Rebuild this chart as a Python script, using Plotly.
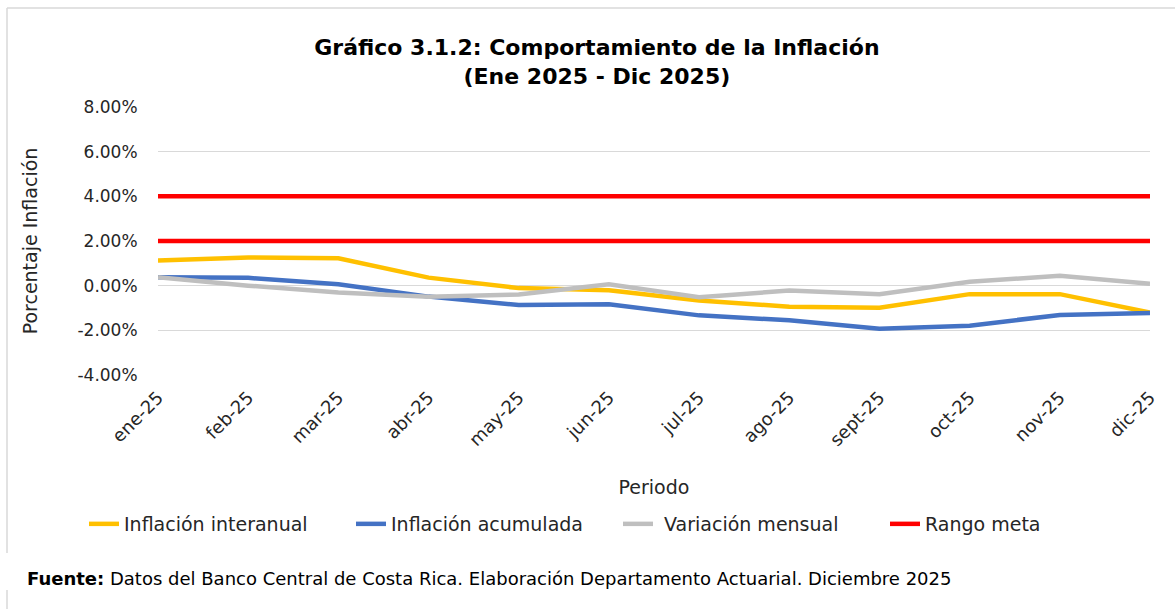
import plotly.graph_objects as go

periodos = ["ene-25", "feb-25", "mar-25", "abr-25", "may-25", "jun-25",
            "jul-25", "ago-25", "sept-25", "oct-25", "nov-25", "dic-25"]
inflacion_interanual = [1.13, 1.26, 1.23, 0.36, -0.11, -0.21, -0.66, -0.94, -0.99, -0.38, -0.38, -1.20]
inflacion_acumulada = [0.38, 0.35, 0.06, -0.49, -0.87, -0.83, -1.33, -1.55, -1.93, -1.79, -1.31, -1.22]
variacion_mensual = [0.38, 0.00, -0.31, -0.50, -0.40, 0.06, -0.52, -0.22, -0.38, 0.18, 0.44, 0.08]
rango_inferior = [2.0] * 12
rango_superior = [4.0] * 12
y_ticks = [-4, -2, 0, 2, 4, 6, 8]
y_tick_labels = ["-4.00%", "-2.00%", "0.00%", "2.00%", "4.00%", "6.00%", "8.00%"]

FONT = "DejaVu Sans"
TXT = "#262626"
W, H = 1175, 609
L, R, T, B = 158, 25, 107, 234
PW, PH = W - L - R, H - T - B


def px_x(x):
    return (x - L) / PW


def px_y(y):
    return (H - B - y) / PH


fig = go.Figure()
fig.add_trace(go.Scatter(x=periodos, y=inflacion_interanual, mode="lines",
                         name="Inflación interanual", line=dict(color="#FFC000", width=4.5)))
fig.add_trace(go.Scatter(x=periodos, y=inflacion_acumulada, mode="lines",
                         name="Inflación acumulada", line=dict(color="#4472C4", width=4.5)))
fig.add_trace(go.Scatter(x=periodos, y=variacion_mensual, mode="lines",
                         name=" Variación mensual", line=dict(color="#BFBFBF", width=4.5)))
fig.add_trace(go.Scatter(x=periodos, y=rango_superior, mode="lines",
                         name="Rango meta", line=dict(color="#FF0000", width=4.5)))
fig.add_trace(go.Scatter(x=periodos, y=rango_inferior, mode="lines",
                         name="Rango meta", showlegend=False, line=dict(color="#FF0000", width=4.5)))

fig.update_layout(
    width=W, height=H,
    paper_bgcolor="white", plot_bgcolor="white",
    margin=dict(l=L, r=R, t=T, b=B),
    font=dict(family=FONT, color=TXT, size=17),
    title=dict(text="<b>Gráfico 3.1.2: Comportamiento de la Inflación<br>(Ene 2025 - Dic 2025)</b>",
               x=0.508, xanchor="center", y=1 - 55 / H, yanchor="top",
               font=dict(family=FONT, size=22, color="#000000")),
    showlegend=True,
    legend=dict(orientation="h", x=px_x(84), xanchor="left", y=px_y(524), yanchor="middle",
                font=dict(family=FONT, size=19, color=TXT),
                entrywidth=222, entrywidthmode="pixels",
                tracegroupgap=0, bgcolor="rgba(0,0,0,0)"),
    xaxis=dict(
        type="category", range=[0, 11], tickangle=-45,
        showgrid=False, zeroline=False, showline=False,
        ticks="outside", ticklen=4, tickcolor="rgba(0,0,0,0)",
        tickfont=dict(family=FONT, size=18, color=TXT),
        title=dict(text="Periodo", font=dict(family=FONT, size=19, color=TXT), standoff=31),
    ),
    yaxis=dict(
        range=[-4, 8], tickvals=y_ticks, ticktext=y_tick_labels,
        showgrid=True, gridcolor="#D9D9D9", gridwidth=1,
        zeroline=False, showline=False,
        ticks="outside", ticklen=16, tickcolor="rgba(0,0,0,0)",
        tickfont=dict(family=FONT, size=17, color=TXT),
        title=dict(text="Porcentaje Inflación", font=dict(family=FONT, size=19, color=TXT), standoff=34),
    ),
    shapes=[
        dict(type="line", xref="paper", yref="paper", x0=px_x(7), x1=px_x(1180), y0=px_y(8), y1=px_y(8),
             line=dict(color="#D9D9D9", width=1.5)),
        dict(type="line", xref="paper", yref="paper", x0=px_x(7), x1=px_x(7), y0=px_y(553), y1=px_y(8),
             line=dict(color="#D9D9D9", width=1.5)),
        dict(type="line", xref="paper", yref="paper", x0=px_x(7), x1=px_x(7), y0=px_y(612), y1=px_y(590),
             line=dict(color="#D9D9D9", width=1.5)),
    ],
    annotations=[
        dict(text="<b>Fuente:</b> Datos del Banco Central de Costa Rica. Elaboración Departamento Actuarial. Diciembre 2025",
             xref="paper", yref="paper", x=px_x(25), xanchor="left", y=px_y(578), yanchor="middle",
             showarrow=False, font=dict(family=FONT, size=18, color="#000000")),
    ],
)

fig.write_html("out.html", config={"displayModeBar": False},
               post_script="document.body.style.margin='0';document.body.style.padding='0';")
